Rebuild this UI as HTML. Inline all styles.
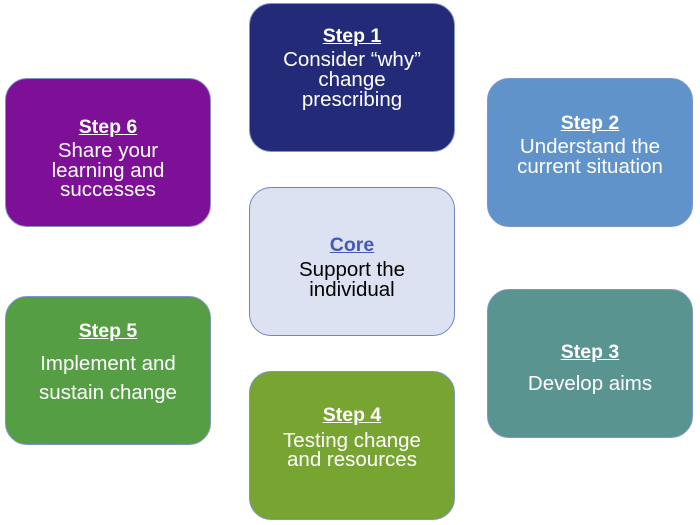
<!DOCTYPE html>
<html><head><style>
body{margin:0;width:700px;height:525px;background:#fff;position:relative;overflow:hidden;font-family:"Liberation Sans",sans-serif;}
.b{position:absolute;width:206px;height:149px;border-radius:22px;border:1.5px solid #7f95c8;box-sizing:border-box;}
.t{position:absolute;left:0;width:100%;text-align:center;font-size:20.5px;color:#fff;line-height:20px;white-space:nowrap;}
.h{font-weight:bold;text-decoration:underline;font-size:19.5px;}
</style></head><body>
<div class="b" style="left:249px;top:3px;background:#232a78"></div>
<div class="b" style="left:487px;top:78px;background:#5f93c9"></div>
<div class="b" style="left:5px;top:78px;background:#7e1097"></div>
<div class="b" style="left:249px;top:187px;background:#dde2f2;border-color:#6d86c2"></div>
<div class="b" style="left:5px;top:296px;background:#559e43"></div>
<div class="b" style="left:487px;top:289px;background:#5a9490"></div>
<div class="b" style="left:249px;top:371px;background:#78a531"></div>

<div class="t h" style="left:249px;width:206px;top:26px">Step 1</div>
<div class="t" style="left:249px;width:206px;top:50px">Consider “why”</div>
<div class="t" style="left:249px;width:206px;top:70px">change</div>
<div class="t" style="left:249px;width:206px;top:90px">prescribing</div>

<div class="t h" style="left:487px;width:206px;top:113px">Step 2</div>
<div class="t" style="left:487px;width:206px;top:137px">Understand the</div>
<div class="t" style="left:487px;width:206px;top:157px">current situation</div>

<div class="t h" style="left:5px;width:206px;top:117px">Step 6</div>
<div class="t" style="left:5px;width:206px;top:141px">Share your</div>
<div class="t" style="left:5px;width:206px;top:161px">learning and</div>
<div class="t" style="left:5px;width:206px;top:180px">successes</div>

<div class="t h" style="left:249px;width:206px;top:235px;color:#4459b8">Core</div>
<div class="t" style="left:249px;width:206px;top:260px;color:#000">Support the</div>
<div class="t" style="left:249px;width:206px;top:280px;color:#000">individual</div>

<div class="t h" style="left:5px;width:206px;top:321px">Step 5</div>
<div class="t" style="left:5px;width:206px;top:354px">Implement and</div>
<div class="t" style="left:5px;width:206px;top:383px">sustain change</div>

<div class="t h" style="left:487px;width:206px;top:342px">Step 3</div>
<div class="t" style="left:487px;width:206px;top:374px">Develop aims</div>

<div class="t h" style="left:249px;width:206px;top:405px">Step 4</div>
<div class="t" style="left:249px;width:206px;top:431px">Testing change</div>
<div class="t" style="left:249px;width:206px;top:450px">and resources</div>
</body></html>
